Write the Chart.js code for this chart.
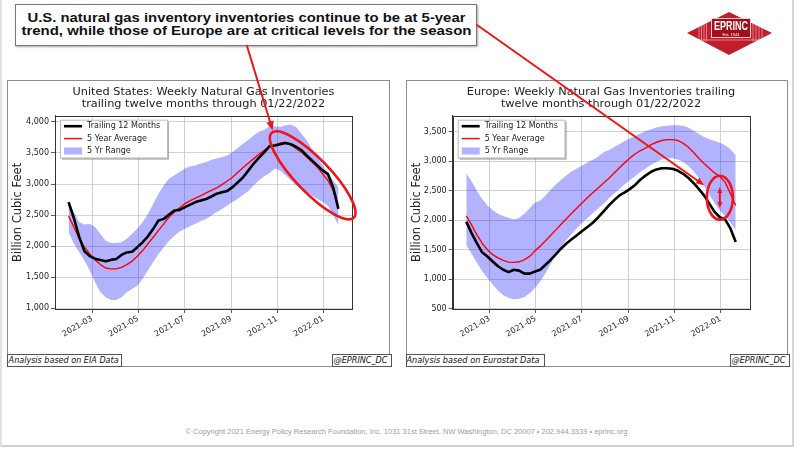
<!DOCTYPE html>
<html>
<head>
<meta charset="utf-8">
<script src="https://cdn.jsdelivr.net/npm/chart.js@4.4.0/dist/chart.umd.min.js"></script>
<style>
  body { margin: 0; width: 800px; height: 449px; background: #fff; position: relative; overflow: hidden; font-family: "DejaVu Sans", sans-serif; }
  .abs { position: absolute; }
  #slide { left: 0; top: 0; width: 790px; height: 445px; border-left: 2px solid #e2e2e2; border-right: 2px solid #d6d6d6; border-bottom: 2px solid #d2d2d2; }
  #headline { left: 15px; top: 4px; width: 460px; height: 40px; border: 1px solid #777; background: #fff;
              box-shadow: 1px 1px 2px rgba(0,0,0,0.35); font-family: "Liberation Sans", Arial, sans-serif;
              font-weight: bold; font-size: 13px; color: #111; }
  #headline .line { position: absolute; left: 0; width: 100%; text-align: center; white-space: nowrap; height: 14px; line-height: 14px; }
  .fit { display: inline-block; transform-origin: center; white-space: nowrap; }
  .frame { border: 1px solid #8c8c8c; background: #fff; }
  .note { border: 1px solid #555; background: #fff; font-style: italic; font-size: 8px; line-height: 11px;
          height: 11px; padding: 0 1px; color: #111; white-space: nowrap; overflow: hidden; }
  #footer { left: 0; top: 428px; width: 812px; text-align: center; font-family: "Liberation Sans", Arial, sans-serif;
            font-size: 7px; color: #9c9c9c; white-space: nowrap; }
  canvas { position: absolute; }
</style>
</head>
<body>
<div id="slide" class="abs"></div>

<div id="headline" class="abs">
  <div class="line" style="top:5.7px"><span class="fit" data-w="438">U.S. natural gas inventory inventories continue to be at 5-year</span></div>
  <div class="line" style="top:18.7px"><span class="fit" data-w="450">trend, while those of Europe are at critical levels for the season</span></div>
</div>

<div class="abs frame" style="left:7px; top:80px; width:381px; height:285px;"></div>
<div class="abs frame" style="left:406px; top:80px; width:380px; height:285px;"></div>

<canvas id="usChart" width="381" height="272" style="left:8px; top:81px;"></canvas>
<canvas id="euChart" width="380" height="272" style="left:407px; top:81px;"></canvas>

<div class="abs note" style="left:7px; top:354px; width:111px;"><span class="fit" data-w="110">Analysis based on EIA Data</span></div>
<div class="abs note" style="left:332px; top:354px; width:56px;"><span class="fit" data-w="54">@EPRINC_DC</span></div>
<div class="abs note" style="left:406px; top:354px; width:135px;"><span class="fit" data-w="133">Analysis based on Eurostat Data</span></div>
<div class="abs note" style="left:730px; top:354px; width:56px;"><span class="fit" data-w="54">@EPRINC_DC</span></div>

<div id="footer" class="abs"><span class="fit" data-w="442">© Copyright 2021 Energy Policy Research Foundation, Inc. 1031 31st Street, NW Washington, DC 20007 • 202.944.3339 • eprinc.org</span></div>

<canvas id="overlay" width="800" height="449" style="left:0; top:0; z-index:5; pointer-events:none;"></canvas>

<script>
// weekly observation dates (same weeks for both charts)
const weeks = ['2021-01-29','2021-02-05','2021-02-12','2021-02-19','2021-02-26','2021-03-05','2021-03-12','2021-03-19','2021-03-26',
  '2021-04-02','2021-04-09','2021-04-16','2021-04-23','2021-04-30','2021-05-07','2021-05-14','2021-05-21','2021-05-28',
  '2021-06-04','2021-06-11','2021-06-18','2021-06-25','2021-07-02','2021-07-09','2021-07-16','2021-07-23','2021-07-30',
  '2021-08-06','2021-08-13','2021-08-20','2021-08-27','2021-09-03','2021-09-10','2021-09-17','2021-09-24',
  '2021-10-01','2021-10-08','2021-10-15','2021-10-22','2021-10-29','2021-11-05','2021-11-12','2021-11-19','2021-11-26',
  '2021-12-03','2021-12-10','2021-12-17','2021-12-24','2021-12-31','2022-01-07','2022-01-14','2022-01-21'];

// United States (Bcf)
const usTrailing = [2710,2450,2150,1920,1840,1800,1780,1760,1780,1795,1860,1900,1910,1985,2065,2160,2280,2415,2440,2510,2575,2585,2630,2670,2710,2735,
  2760,2800,2845,2870,2890,2950,3030,3110,3220,3330,3425,3515,3610,3620,3640,3660,3640,3600,3545,3460,3380,3300,3220,3165,2950,2600];
const usAverage = [2485,2310,2120,1985,1875,1780,1705,1650,1635,1635,1660,1705,1760,1840,1930,2040,2145,2255,2360,2470,2550,2620,2685,2735,2775,2815,
  2860,2900,2940,2990,3050,3110,3190,3265,3340,3410,3480,3545,3600,3630,3660,3675,3640,3570,3515,3435,3355,3275,3165,3060,2900,2630];
const usRangeHigh = [2710,2550,2390,2350,2360,2310,2200,2090,2050,2050,2065,2120,2200,2280,2390,2520,2685,2845,2980,3090,3140,3195,3250,3285,3300,3330,
  3355,3390,3410,3435,3460,3515,3585,3650,3715,3785,3840,3875,3930,3930,3920,3945,3960,3920,3815,3705,3570,3435,3300,3165,3060,2950];
const usRangeLow = [2225,2040,1905,1770,1610,1420,1260,1180,1135,1135,1180,1260,1310,1365,1475,1610,1745,1875,1985,2090,2170,2235,2280,2325,2360,2405,
  2440,2495,2550,2600,2655,2710,2765,2830,2890,2980,3060,3125,3180,3250,3220,3140,3060,2980,2925,2870,2815,2765,2710,2655,2500,2340];

// Europe (Bcf)
const euTrailing = [1975,1780,1610,1455,1385,1300,1220,1160,1120,1160,1145,1095,1095,1130,1160,1245,1330,1425,1525,1610,1680,1750,1820,1890,1960,2050,
  2150,2250,2340,2420,2470,2530,2600,2690,2760,2820,2860,2880,2880,2870,2840,2790,2720,2630,2530,2420,2280,2140,2050,2010,1860,1630];
const euAverage = [2075,1920,1750,1610,1500,1415,1360,1320,1290,1285,1295,1330,1385,1480,1560,1650,1745,1840,1935,2030,2120,2210,2300,2390,2470,2550,
  2630,2710,2800,2890,2975,3055,3125,3180,3225,3280,3320,3350,3365,3365,3350,3305,3240,3150,3050,2960,2880,2800,2740,2640,2450,2250];
const euRangeHigh = [2790,2660,2500,2360,2250,2170,2110,2070,2040,2010,2040,2110,2200,2300,2330,2420,2520,2610,2690,2760,2830,2880,2930,2980,3030,3080,
  3150,3190,3240,3290,3340,3390,3430,3470,3510,3540,3570,3590,3600,3610,3610,3600,3570,3520,3460,3410,3370,3340,3310,3270,3200,3100];
const euRangeLow = [1580,1430,1280,1140,1020,910,810,730,680,660,670,700,760,850,960,1100,1260,1420,1560,1670,1770,1870,1960,2040,2120,2200,
  2280,2370,2450,2530,2610,2680,2750,2820,2880,2940,2990,3030,3050,3050,3030,2990,2920,2830,2720,2580,2430,2290,2160,2070,1960,1830];

// axis ticks
const monthTicks = ['2021-03','2021-05','2021-07','2021-09','2021-11','2022-01'];
const usYTicks = [1000,1500,2000,2500,3000,3500,4000];
const euYTicks = [500,1000,1500,2000,2500,3000,3500];

// annotation anchors (data coordinates)
const usCircle = { date: '2021-12-18', value: 3140 };
const usArrowTip = { date: '2021-10-26', value: 3866 };
const euCircle = { date: '2021-12-31', value: 2381 };
const euArrowTip = { date: '2021-12-10', value: 2592 };
const euGap = { date: '2021-12-31', top: 2560, bottom: 2205 };

function dayOf(s) {
  const p = s.split('-').map(Number);
  return (Date.UTC(p[0], p[1] - 1, p[2] || 1) - Date.UTC(2021, 0, 1)) / 86400000;
}
function pts(arr) { return arr.map((v, i) => ({ x: dayOf(weeks[i]), y: v })); }

const BAND = 'rgba(0,0,255,0.3)';
const TXT = '#222';
const tickFont = { family: 'DejaVu Sans', size: 8 };

const framePlugin = {
  id: 'frame',
  afterDatasetsDraw(chart) {
    const a = chart.chartArea, ctx = chart.ctx;
    ctx.save();
    ctx.strokeStyle = '#333'; ctx.lineWidth = 1;
    ctx.strokeRect(Math.round(a.left) + 0.5, Math.round(a.top) + 0.5, Math.round(a.right - a.left), Math.round(a.bottom - a.top));
    ctx.restore();
  }
};

const titlePlugin = {
  id: 'plotTitle',
  afterDraw(chart, args, opts) {
    const a = chart.chartArea, ctx = chart.ctx;
    ctx.save();
    ctx.fillStyle = TXT; ctx.textAlign = 'center'; ctx.textBaseline = 'middle';
    ctx.font = '11.3px "DejaVu Sans"';
    const cx = (a.left + a.right) / 2;
    opts.lines.forEach((t, i) => ctx.fillText(t, cx, 11.5 + i * 12));
    ctx.restore();
  }
};

const legendPlugin = {
  id: 'boxLegend',
  afterDraw(chart) {
    const a = chart.chartArea, ctx = chart.ctx;
    const x = a.left + 5, y = a.top + 4, w = 107, h = 38;
    ctx.save();
    ctx.fillStyle = 'rgba(0,0,0,0.3)';
    ctx.fillRect(x + 2, y + 2, w, h);
    ctx.fillStyle = '#fff'; ctx.strokeStyle = '#bbb'; ctx.lineWidth = 1;
    ctx.fillRect(x, y, w, h); ctx.strokeRect(x + 0.5, y + 0.5, w, h);
    const items = chart.data.datasets.filter(d => d.inLegend);
    ctx.font = '8px "DejaVu Sans"'; ctx.textBaseline = 'middle'; ctx.textAlign = 'left';
    items.forEach((d, i) => {
      const ry = y + 6.5 + i * 12.4;
      if (d.fill) {
        ctx.fillStyle = d.backgroundColor; ctx.fillRect(x + 4, ry - 3.5, 18, 7);
      } else {
        ctx.strokeStyle = d.borderColor; ctx.lineWidth = d.borderWidth;
        ctx.beginPath(); ctx.moveTo(x + 4, ry); ctx.lineTo(x + 22, ry); ctx.stroke();
      }
      ctx.fillStyle = TXT; ctx.fillText(d.label, x + 27, ry);
    });
    ctx.restore();
  }
};

function makeChart(id, c) {
  return new Chart(document.getElementById(id), {
    type: 'line',
    data: {
      datasets: [
        { label: 'Trailing 12 Months', data: pts(c.trailing), borderColor: '#000', borderWidth: 2.6, order: 0, inLegend: true },
        { label: '5 Year Average', data: pts(c.average), borderColor: '#ff0000', borderWidth: 1.4, order: 1, inLegend: true },
        { label: '5 Yr Range', data: pts(c.high), borderColor: 'transparent', borderWidth: 0, backgroundColor: BAND, fill: '+1', order: 2, inLegend: true },
        { label: 'low', data: pts(c.low), borderColor: 'transparent', borderWidth: 0, fill: false, order: 3 }
      ]
    },
    plugins: [framePlugin, titlePlugin, legendPlugin],
    options: {
      responsive: false, animation: false, devicePixelRatio: 1,
      elements: { point: { radius: 0 }, line: { tension: 0, borderJoinStyle: 'round' } },
      layout: { padding: { left: 0, top: 34.7, right: c.padRight, bottom: 0 } },
      plugins: { legend: { display: false }, tooltip: { enabled: false }, plotTitle: { lines: c.title } },
      scales: {
        x: {
          type: 'linear', min: 10, max: 403,
          afterBuildTicks: s => { s.ticks = monthTicks.map(m => ({ value: dayOf(m) })); },
          afterFit: s => { s.height = 44; },
          ticks: { callback: (v, i) => monthTicks[i], font: tickFont, color: TXT, minRotation: 30, maxRotation: 30, autoSkip: false, padding: 1 },
          grid: { color: '#c6c6c6', lineWidth: 0.8, tickLength: 4, tickColor: '#333' },
          border: { color: '#333' }
        },
        y: {
          min: c.yMin, max: c.yMax,
          afterBuildTicks: s => { s.ticks = c.yTicks.map(v => ({ value: v })); },
          afterFit: s => { s.width = c.yWidth; },
          ticks: { callback: v => v.toLocaleString('en-US'), font: tickFont, color: TXT, padding: 2 },
          grid: { color: '#c6c6c6', lineWidth: 0.8, tickLength: 4, tickColor: '#333' },
          border: { color: '#333' },
          title: { display: true, text: 'Billion Cubic Feet', font: { family: 'DejaVu Sans', size: 11.5 }, color: TXT, padding: { top: 3, bottom: 0 } }
        }
      }
    }
  });
}

// fit text lines to their measured widths
document.querySelectorAll('.fit').forEach(el => {
  const w = el.getBoundingClientRect().width;
  el.style.transform = 'scaleX(' + (Number(el.dataset.w) / w) + ')';
});

const us = makeChart('usChart', {
  trailing: usTrailing, average: usAverage, high: usRangeHigh, low: usRangeLow,
  yMin: 990, yMax: 4100, yTicks: usYTicks, yWidth: 47, padRight: 37,
  title: ['United States: Weekly Natural Gas Inventories', 'trailing twelve months through 01/22/2022']
});
const eu = makeChart('euChart', {
  trailing: euTrailing, average: euAverage, high: euRangeHigh, low: euRangeLow,
  yMin: 495, yMax: 3770, yTicks: euYTicks, yWidth: 45.7, padRight: 37.7,
  title: ['Europe: Weekly Natural Gas Inventories trailing', 'twelve months through 01/22/2022']
});

// ---- overlay: callouts and logo ----
function pagePt(chart, left, top, date, value) {
  return { x: left + chart.scales.x.getPixelForValue(dayOf(date)), y: top + chart.scales.y.getPixelForValue(value) };
}
function arrow(ctx, x1, y1, x2, y2, head) {
  const a = Math.atan2(y2 - y1, x2 - x1), c = Math.cos(a), s = Math.sin(a);
  ctx.beginPath(); ctx.moveTo(x1, y1); ctx.lineTo(x2 - c * head * 0.7, y2 - s * head * 0.7); ctx.stroke();
  ctx.beginPath(); ctx.moveTo(x2, y2);
  ctx.lineTo(x2 - head * c + head * 0.42 * s, y2 - head * s - head * 0.42 * c);
  ctx.lineTo(x2 - head * c - head * 0.42 * s, y2 - head * s + head * 0.42 * c);
  ctx.closePath(); ctx.fill();
}

const ov = document.getElementById('overlay').getContext('2d');
ov.strokeStyle = '#f01414'; ov.fillStyle = '#f01414'; ov.lineCap = 'round';

const usC = pagePt(us, 8, 81, usCircle.date, usCircle.value);
ov.lineWidth = 2.6;
ov.beginPath(); ov.ellipse(usC.x, usC.y, 59, 17, 46 * Math.PI / 180, 0, Math.PI * 2); ov.stroke();
const usT = pagePt(us, 8, 81, usArrowTip.date, usArrowTip.value);
ov.lineWidth = 2;
arrow(ov, 247, 46, usT.x, usT.y, 9);

const euC = pagePt(eu, 407, 81, euCircle.date, euCircle.value);
ov.lineWidth = 2.6;
ov.beginPath(); ov.ellipse(euC.x, euC.y, 13, 22, 0, 0, Math.PI * 2); ov.stroke();
const euT = pagePt(eu, 407, 81, euArrowTip.date, euArrowTip.value);
ov.lineWidth = 2;
arrow(ov, 477, 25, euT.x, euT.y, 8);
const g1 = pagePt(eu, 407, 81, euGap.date, euGap.top);
const g2 = pagePt(eu, 407, 81, euGap.date, euGap.bottom);
const gm = (g1.y + g2.y) / 2;
arrow(ov, g1.x, gm, g1.x, g1.y, 6);
arrow(ov, g2.x, gm, g2.x, g2.y, 6);

// EPRINC logo
(function drawLogo(ctx) {
  ctx.save();
  ctx.fillStyle = '#c21d2c';
  ctx.beginPath(); ctx.moveTo(687, 33); ctx.lineTo(729, 12); ctx.lineTo(772, 33); ctx.lineTo(729, 55); ctx.closePath(); ctx.fill();
  ctx.strokeStyle = 'rgba(255,255,255,0.75)'; ctx.lineWidth = 0.6;
  for (let i = 0; i < 4; i++) {
    ctx.beginPath(); ctx.moveTo(699 + i * 2.5, 24); ctx.lineTo(699 + i * 2.5, 41); ctx.stroke();
    ctx.beginPath(); ctx.moveTo(753 + i * 3, 24); ctx.lineTo(753 + i * 3, 41); ctx.stroke();
  }
  ctx.beginPath(); ctx.moveTo(693, 40); ctx.lineTo(766, 40); ctx.stroke();
  ctx.fillStyle = '#a3101c';
  ctx.fillRect(711, 18, 40, 20);
  ctx.strokeStyle = '#fff'; ctx.lineWidth = 0.8; ctx.strokeRect(711.5, 18.5, 39, 19);
  ctx.fillStyle = '#fff'; ctx.textAlign = 'center'; ctx.textBaseline = 'middle';
  ctx.font = 'bold 12px "Liberation Sans", Arial, sans-serif';
  const w = ctx.measureText('EPRINC').width;
  ctx.translate(731, 27); ctx.scale(34 / w, 1); ctx.fillText('EPRINC', 0, 0);
  ctx.setTransform(1, 0, 0, 1, 0, 0);
  ctx.font = '4px "Liberation Sans", Arial, sans-serif';
  ctx.fillText('Est. 1944', 731, 34.5);
  ctx.restore();
})(ov);
</script>
</body>
</html>
